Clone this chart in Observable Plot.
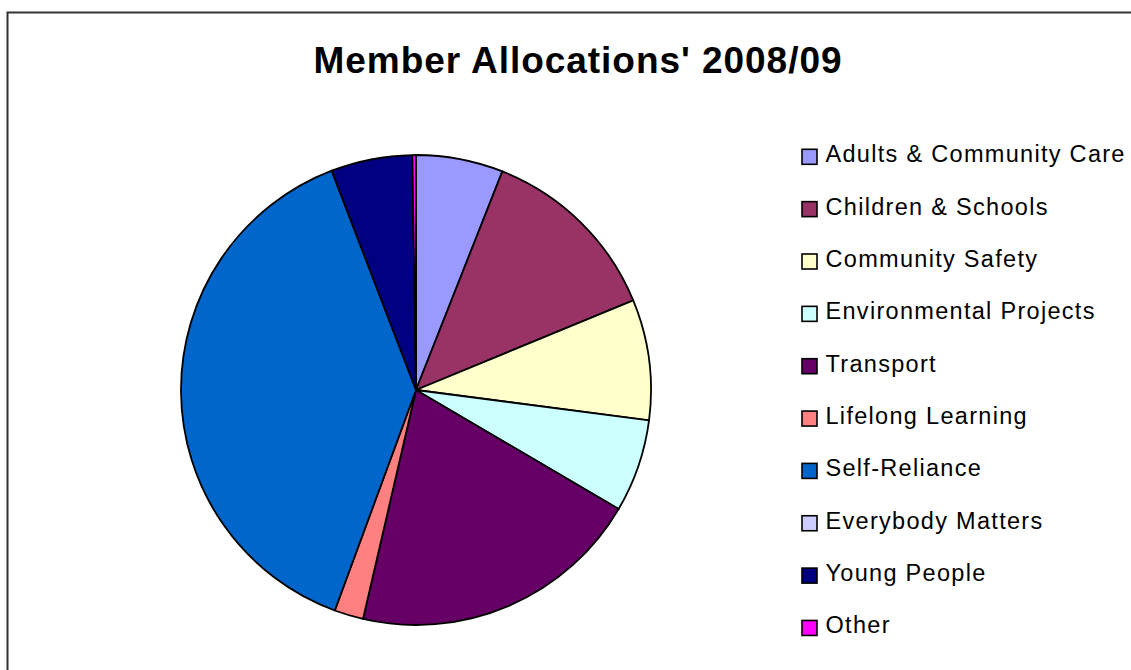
<!DOCTYPE html>
<html>
<head>
<meta charset="utf-8">
<script src="https://cdn.jsdelivr.net/npm/d3@7"></script>
<script src="https://cdn.jsdelivr.net/npm/@observablehq/plot@0.6"></script>
<style>
  html, body { margin: 0; padding: 0; background: #fff; overflow: hidden; }
  #chart svg { display: block; font-family: "Liberation Sans", Arial, sans-serif; }
</style>
</head>
<body>
<div id="chart"></div>
<script>
// ---- data ----
const title = "Member Allocations' 2008/09";
const categories = [
  "Adults & Community Care",
  "Children & Schools",
  "Community Safety",
  "Environmental Projects",
  "Transport",
  "Lifelong Learning",
  "Self-Reliance",
  "Everybody Matters",
  "Young People",
  "Other"
];
const shares = [6.0, 12.8, 8.3, 6.4, 20.2, 2.0, 38.6, 0.0, 5.6, 0.25];
const colors = [
  "#9999FF", "#993366", "#FFFFCC", "#CCFFFF", "#660066",
  "#FF8080", "#0066CC", "#CCCCFF", "#000080", "#FF00FF"
];

const slices = categories.map((c, i) => ({category: c, value: shares[i], order: i}));

// ---- layout ----
const W = 1131, H = 670;
const cx = 416, cy = 390, R = 235;
const legX = 802, legSize = 15, legTop = 156.8, legStep = 52.35;

function pieMark(data) {
  return (index, scales) => {
    const g = d3.create("svg:g");
    const px = scales.x(cx), py = scales.y(cy);
    const r = Math.abs(scales.x(cx + R) - px);
    const arcs = d3.pie().sort(null).value(d => d.value)(data);
    const arc = d3.arc().innerRadius(0).outerRadius(r);
    g.attr("transform", `translate(${px},${py})`);
    g.selectAll("path")
      .data(arcs.filter(a => a.data.value > 0))
      .join("path")
      .attr("d", arc)
      .attr("fill", a => scales.color(a.data.category))
      .attr("stroke", "#000")
      .attr("stroke-width", 1.8)
      .attr("stroke-linejoin", "round");
    return g.node();
  };
}

const chart = Plot.plot({
  width: W,
  height: H,
  margin: 0,
  x: {domain: [0, W], axis: null},
  y: {domain: [H, 0], axis: null},
  color: {domain: categories, range: colors},
  marks: [
    // outer chart border
    Plot.rect([0], {x1: 7.5, y1: 12.5, x2: W + 5, y2: H + 5, fill: "none", stroke: "#333", strokeWidth: 2}),
    pieMark(slices),
    // title
    Plot.text([title], {
      x: 577, y: 72, text: d => d, fontSize: 37, fontWeight: "bold",
      textAnchor: "middle", lineAnchor: "bottom", fill: "#000"
    }),
    // legend
    Plot.rect(categories, {
      x1: legX, x2: legX + legSize,
      y1: (d, i) => legTop + i * legStep - legSize / 2,
      y2: (d, i) => legTop + i * legStep + legSize / 2,
      fill: d => d, stroke: "#000", strokeWidth: 1.6
    }),
    Plot.text(categories, {
      x: legX + 23,
      y: (d, i) => legTop + i * legStep + 5,
      text: d => d, fontSize: 23.5, textAnchor: "start", lineAnchor: "bottom", fill: "#000"
    })
  ]
});

const svg = d3.select(chart);
svg.selectAll("text").filter(function() { return this.textContent === title; })
  .attr("textLength", 528).attr("lengthAdjust", "spacing");
svg.selectAll("text").filter(function() { return categories.includes(this.textContent); })
  .style("letter-spacing", "1.3px");
document.getElementById("chart").appendChild(chart);
</script>
</body>
</html>
